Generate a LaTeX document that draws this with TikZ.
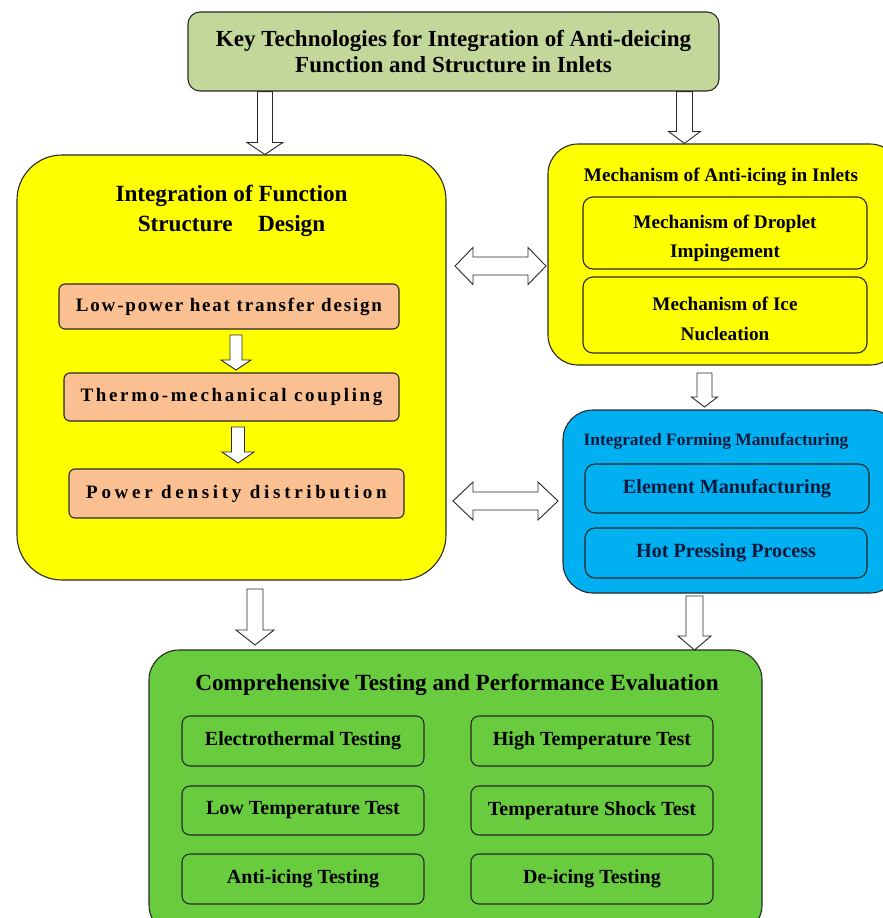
\documentclass[tikz,border=0pt]{standalone}
\usepackage{fontspec}
\setmainfont{Liberation Serif}
\usetikzlibrary{calc}
\definecolor{topgreen}{RGB}{196,215,155}
\definecolor{ylw}{RGB}{255,255,0}
\definecolor{peach}{RGB}{250,192,145}
\definecolor{bluebox}{RGB}{0,176,240}
\definecolor{grn}{RGB}{104,204,62}
\definecolor{edge}{RGB}{40,40,40}
\definecolor{navy}{RGB}{10,25,60}
\newcommand\fs[2]{\fontsize{#1pt}{#2pt}\selectfont\bfseries}
\newcommand\blockdown[5]{%
  \draw[arrowbox] let \p1=(#1), \p2=(#2) in
    (\x1-#3pt,\y1) -- (\x1+#3pt,\y1) -- (\x1+#3pt,\y2+#5pt) -- (\x1+#4pt,\y2+#5pt)
    -- (\x1,\y2) -- (\x1-#4pt,\y2+#5pt) -- (\x1-#3pt,\y2+#5pt) -- cycle;}
\newcommand\blockdouble[5]{%
  \draw[arrowbox] let \p1=(#1), \p2=(#2) in
    (\x1,\y1) -- (\x1+#5pt,\y1+#4pt) -- (\x1+#5pt,\y1+#3pt) -- (\x2-#5pt,\y1+#3pt)
    -- (\x2-#5pt,\y1+#4pt) -- (\x2,\y1) -- (\x2-#5pt,\y1-#4pt) -- (\x2-#5pt,\y1-#3pt)
    -- (\x1+#5pt,\y1-#3pt) -- (\x1+#5pt,\y1-#4pt) -- cycle;}
\begin{document}
\begin{tikzpicture}[x=1pt,y=-1pt,
  box/.style={draw=edge, line width=1.1pt, rounded corners=#1, inner sep=0pt, align=center},
  box/.default=8pt,
  arrowbox/.style={draw=edge, line width=0.9pt, fill=white, line join=miter},
  lbl/.style={inner sep=0pt, align=center}]
\useasboundingbox (0,0) rectangle (883,918);
\fill[white] (0,0) rectangle (883,918);

% top
\node[box=12pt, fill=topgreen, minimum width=531pt, minimum height=79pt, font=\fs{23}{26}] (top) at (453.5,51.5)
  {Key Technologies for Integration of Anti-deicing\\Function and Structure in Inlets};

% left yellow
\node[box=45pt, fill=ylw, minimum width=429pt, minimum height=425pt] (left) at (231.5,367.5) {};
\node[lbl, font=\fs{23.2}{30}] (lefttitle) at (231.5,211) {Integration of Function\\Structure\hspace{1.1em}Design};
\node[box=6pt, fill=peach, minimum width=340pt, minimum height=45pt, font=\fs{19}{22}] (o1) at (229,306.5)
  {\addfontfeatures{LetterSpace=9.5}Low-power heat transfer design};
\node[box=6pt, fill=peach, minimum width=335pt, minimum height=48pt, font=\fs{19}{22}] (o2) at (231.5,397)
  {\addfontfeatures{LetterSpace=14}Thermo-mechanical coupling};
\node[box=6pt, fill=peach, minimum width=335pt, minimum height=49pt, font=\fs{19}{22}] (o3) at (236.5,493.5)
  {\addfontfeatures{LetterSpace=19.5}Power density distribution};

% right yellow
\node[box=30pt, fill=ylw, minimum width=352pt, minimum height=221pt] (mech) at (724,254.5) {};
\node[lbl, font=\fs{19.2}{22}] (mechtitle) at (721,177) {Mechanism of Anti-icing in Inlets};
\node[box=10pt, fill=ylw, minimum width=284pt, minimum height=72pt] (m1) at (725,233) {};
\node[lbl, font=\fs{19.2}{29}] (m1t) at (725,238) {Mechanism of Droplet\\Impingement};
\node[box=10pt, fill=ylw, minimum width=284pt, minimum height=76pt] (m2) at (725,315) {};
\node[lbl, font=\fs{19.2}{30}] (m2t) at (725,319) {Mechanism of Ice\\Nucleation};

% blue
\node[box=30pt, fill=bluebox, minimum width=337pt, minimum height=183pt] (blue) at (731.5,501.5) {};
\node[lbl, text=navy, font=\fs{17.4}{20}] (bluetitle) at (716,441) {Integrated Forming Manufacturing};
\node[box=10pt, fill=bluebox, text=navy, minimum width=284pt, minimum height=49pt, font=\fs{20.2}{23}] (b1) at (727,488.5)
  {Element Manufacturing};
\node[box=10pt, fill=bluebox, text=navy, minimum width=282pt, minimum height=50pt, font=\fs{20.2}{23}] (b2) at (726,553)
  {Hot Pressing Process};

% green
\node[box=30pt, fill=grn, minimum width=613pt, minimum height=285pt] (green) at (455.5,792.5) {};
\node[lbl, font=\fs{23.2}{26}] (greentitle) at (457,684.5) {Comprehensive Testing and Performance Evaluation};
\tikzset{gbox/.style={box=8pt, fill=grn, minimum width=242pt, font=\fs{20}{23}}}
\node[gbox, minimum height=50pt] (g1) at (303,741) {Electrothermal Testing};
\node[gbox, minimum height=50pt] (g2) at (592,741) {High Temperature Test};
\node[gbox, minimum height=49pt] (g3) at (303,810.5) {Low Temperature Test};
\node[gbox, minimum height=49pt] (g4) at (592,810.5) {Temperature Shock Test};
\node[gbox, minimum height=50pt] (g5) at (303,879) {Anti-icing Testing};
\node[gbox, minimum height=50pt] (g6) at (592,879) {De-icing Testing};

% arrow end points
\coordinate (a1s) at ($(top.south west)+(77.5,0)$);
\coordinate (a1e) at (a1s |- left.north);
\coordinate (a2s) at ($(top.south west)+(497,0)$);
\coordinate (a2e) at (a2s |- mech.north);
\coordinate (a3s) at (704.5,373);
\coordinate (a3e) at (704.5,407);
\coordinate (a4s) at (255,589);
\coordinate (a4e) at (255,645);
\coordinate (a5s) at (694.5,596);
\coordinate (a5e) at (694.5,650);
\coordinate (s1s) at (236,335);
\coordinate (s1e) at (236,370);
\coordinate (s2s) at (238,427);
\coordinate (s2e) at (238,463);
\coordinate (d1l) at (455,266);
\coordinate (d1r) at (546,266);
\coordinate (d2l) at (453,501);
\coordinate (d2r) at (558,501);

\blockdown{a1s}{a1e}{7.5}{18}{12}
\blockdown{a2s}{a2e}{8}{16}{12}
\blockdown{a3s}{a3e}{7.5}{13}{10}
\blockdown{a4s}{a4e}{8}{19}{15}
\blockdown{a5s}{a5e}{8.5}{16.5}{14}
\blockdown{s1s}{s1e}{6}{15}{10}
\blockdown{s2s}{s2e}{6.5}{16}{11}
\blockdouble{d1l}{d1r}{9}{18.5}{18}
\blockdouble{d2l}{d2r}{9}{19}{20}
\end{tikzpicture}
\end{document}
